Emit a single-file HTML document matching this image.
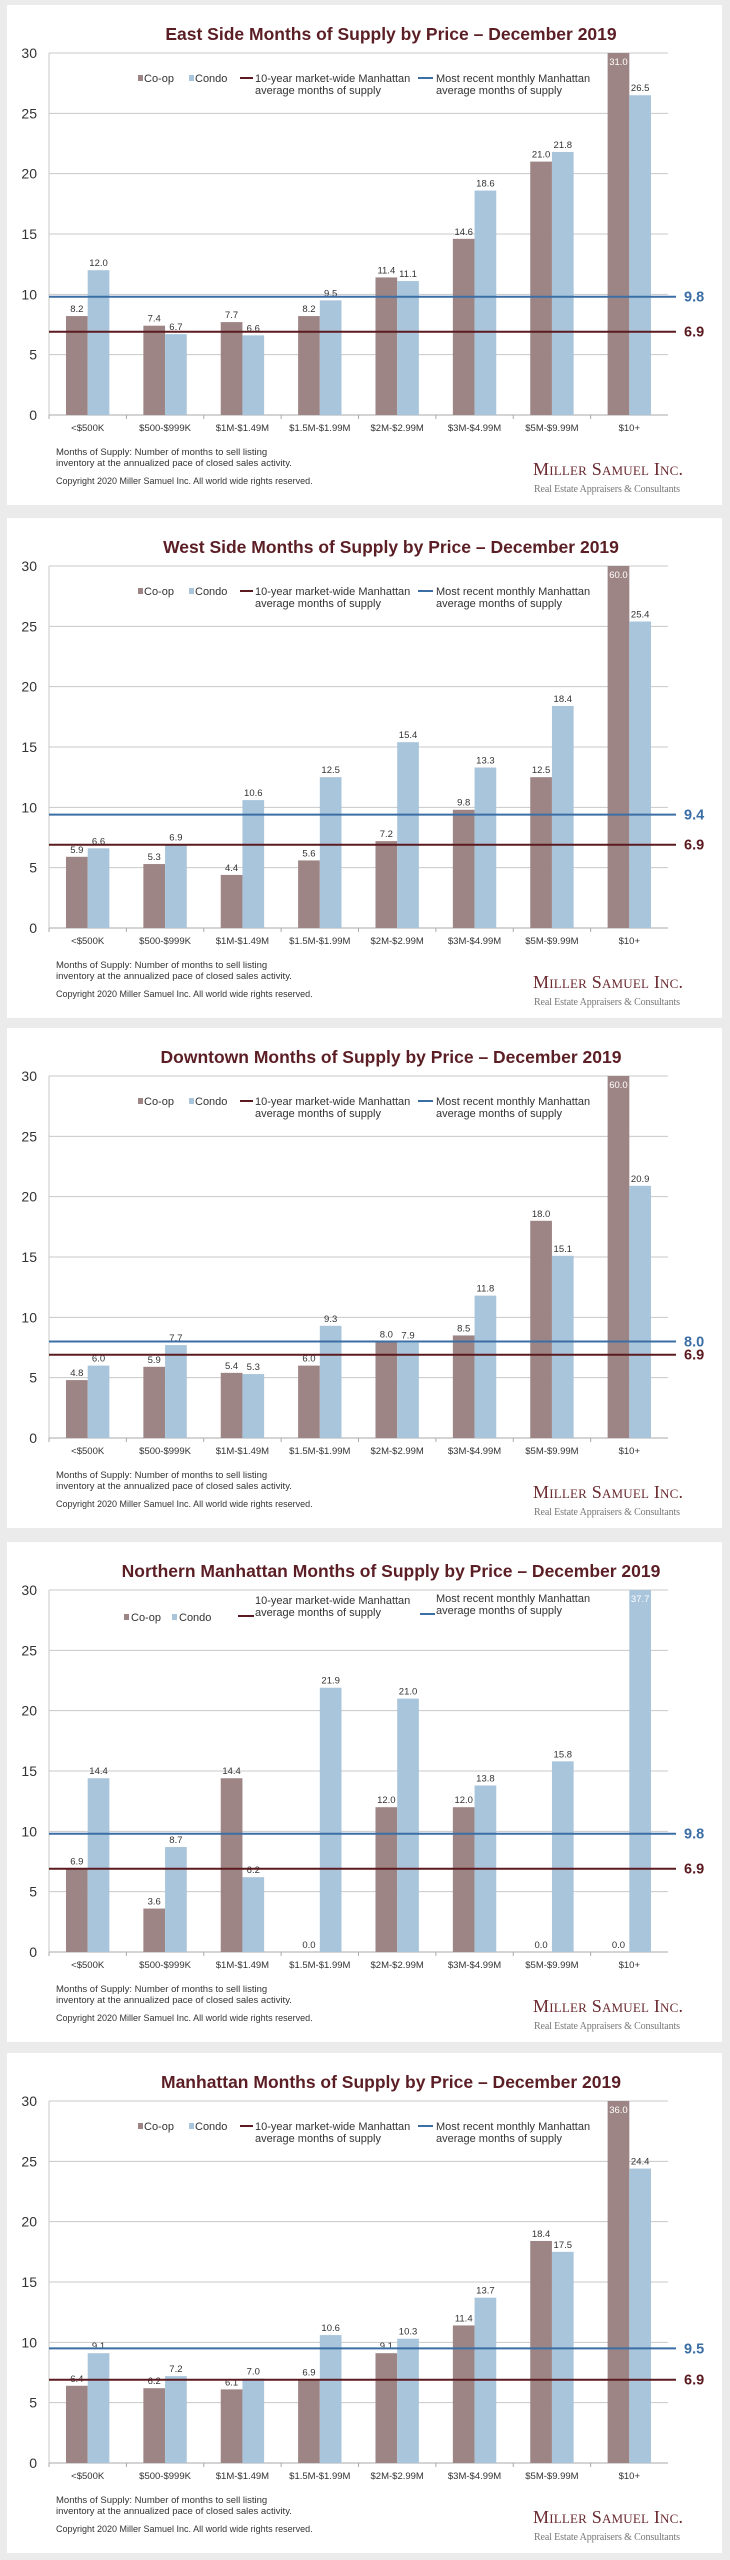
<!DOCTYPE html>
<html><head><meta charset="utf-8">
<style>
html,body{margin:0;padding:0;background:#ebebeb;}
body{width:730px;height:2560px;position:relative;overflow:hidden;font-family:"Liberation Sans",Arial,sans-serif;}
.panel{position:absolute;left:7px;width:715px;height:500px;background:#fff;}
svg{position:absolute;left:0;top:0;}
</style></head>
<body>
<div id="root"></div>
<script>
// ---- data ----
const categories = ["<$500K","$500-$999K","$1M-$1.49M","$1.5M-$1.99M","$2M-$2.99M","$3M-$4.99M","$5M-$9.99M","$10+"];
const yTicks = [0,5,10,15,20,25,30];

const eastTitle = "East Side Months of Supply by Price – December 2019";
const eastCoop  = [8.2,7.4,7.7,8.2,11.4,14.6,21.0,31.0];
const eastCondo = [12.0,6.7,6.6,9.5,11.1,18.6,21.8,26.5];
const eastRecent = 9.8;
const eastTenYear = 6.9;

const westTitle = "West Side Months of Supply by Price – December 2019";
const westCoop  = [5.9,5.3,4.4,5.6,7.2,9.8,12.5,60.0];
const westCondo = [6.6,6.9,10.6,12.5,15.4,13.3,18.4,25.4];
const westRecent = 9.4;
const westTenYear = 6.9;

const downTitle = "Downtown Months of Supply by Price – December 2019";
const downCoop  = [4.8,5.9,5.4,6.0,8.0,8.5,18.0,60.0];
const downCondo = [6.0,7.7,5.3,9.3,7.9,11.8,15.1,20.9];
const downRecent = 8.0;
const downTenYear = 6.9;

const northTitle = "Northern Manhattan Months of Supply by Price – December 2019";
const northCoop  = [6.9,3.6,14.4,0.0,12.0,12.0,0.0,0.0];
const northCondo = [14.4,8.7,6.2,21.9,21.0,13.8,15.8,37.7];
const northRecent = 9.8;
const northTenYear = 6.9;

const manTitle = "Manhattan Months of Supply by Price – December 2019";
const manCoop  = [6.4,6.2,6.1,6.9,9.1,11.4,18.4,36.0];
const manCondo = [9.1,7.2,7.0,10.6,10.3,13.7,17.5,24.4];
const manRecent = 9.5;
const manTenYear = 6.9;

// ---- drawing ----
const NS = "http://www.w3.org/2000/svg";
const COOP = "#9e8585", CONDO = "#a9c5dc", RED = "#5a1a1f", BLUE = "#3b6ea5", TITLE = "#5b1e25";
function mk(tag, attrs, parent, txt){
  const e = document.createElementNS(NS, tag);
  for (const k in attrs) e.setAttribute(k, attrs[k]);
  if (txt !== undefined) e.textContent = txt;
  if (parent) parent.appendChild(e);
  return e;
}
function drawChart(top, key, title, coop, condo, recent, tenYear, northLegend){
  const root = document.getElementById('root');
  const panel = document.createElement('div');
  panel.className = 'panel';
  panel.style.top = top + 'px';
  
  
  root.appendChild(panel);
  const svg = mk('svg', {width:715, height:500, viewBox:"7 0 715 500"}, panel);
  
  
  const L = 49, R = 668, T = 48, B = 410;
  const y = v => B - Math.min(v,30)/30*(B-T);
  const cw = (R-L)/categories.length;
  const bw = 21.7;

  const t = mk('text', {x:391, y:35, 'text-anchor':'middle', 'font-size':17.5, 'font-weight':'bold', fill:TITLE}, svg, title);
  
  

  yTicks.forEach(v=>{
    if (v>0) mk('line', {x1:L, x2:R, y1:y(v), y2:y(v), stroke:'#c8c8c8', 'stroke-width':1}, svg);
    const tl = mk('text', {x:37, y:y(v)+5, 'text-anchor':'end', 'font-size':14, fill:'#333'}, svg, v);
    
    
  });
  mk('line', {x1:L, x2:L, y1:T, y2:B, stroke:'#c8c8c8'}, svg);
  mk('line', {x1:L, x2:R, y1:B, y2:B, stroke:'#aaa'}, svg);
  categories.forEach((c,i)=>{
    mk('line', {x1:L+cw*i, x2:L+cw*i, y1:B, y2:B+4, stroke:'#aaa'}, svg);
    const cl = mk('text', {x:L+cw*(i+0.5), y:B+16, 'text-anchor':'middle', 'font-size':9.5, fill:'#333'}, svg, c);
    
    
  });

  const series = [[coop, COOP, 'coop', -bw], [condo, CONDO, 'condo', 0]];
  series.forEach(([vals, col, nm, off])=>{
    vals.forEach((v,i)=>{
      const cx = L+cw*(i+0.5);
      const r = mk('rect', {x:cx+off, y:y(v), width:bw, height:B-y(v), fill:col}, svg);
      
      
      const clipped = v > 30;
      const lab = mk('text', {x:cx+off+bw/2, y: clipped ? y(v)+12 : y(v)-4, 'text-anchor':'middle', 'font-size':9.5, fill: clipped ? '#fff' : '#333'}, svg, v.toFixed(1));
      
      
    });
  });

  const ln1 = mk('line', {x1:L, x2:676, y1:y(recent), y2:y(recent), stroke:BLUE, 'stroke-width':2}, svg);
  
  
  const ln2 = mk('line', {x1:L, x2:676, y1:y(tenYear), y2:y(tenYear), stroke:RED, 'stroke-width':2}, svg);
  
  
  const rl = mk('text', {x:684, y:y(recent)+5, 'font-size':14.5, 'font-weight':'bold', fill:BLUE}, svg, recent.toFixed(1));
  
  
  const tyl = mk('text', {x:684, y:y(tenYear)+5, 'font-size':14.5, 'font-weight':'bold', fill:RED}, svg, tenYear.toFixed(1));
  
  

  // legend
  const lg = mk('g', {'font-size':11, fill:'#333'}, svg);
  
  
  if (!northLegend){
    const ly = 77;
    mk('rect', {x:138, y:ly-7, width:5, height:6, fill:COOP}, lg);
    mk('text', {x:144, y:ly}, lg, 'Co-op');
    mk('rect', {x:189, y:ly-7, width:5, height:6, fill:CONDO}, lg);
    mk('text', {x:195, y:ly}, lg, 'Condo');
    mk('line', {x1:240, x2:253, y1:ly-4, y2:ly-4, stroke:RED, 'stroke-width':2}, lg);
    mk('text', {x:255, y:ly}, lg, '10-year market-wide Manhattan');
    mk('text', {x:255, y:ly+12}, lg, 'average months of supply');
    mk('line', {x1:418, x2:433, y1:ly-4, y2:ly-4, stroke:BLUE, 'stroke-width':2}, lg);
    mk('text', {x:436, y:ly}, lg, 'Most recent monthly Manhattan');
    mk('text', {x:436, y:ly+12}, lg, 'average months of supply');
  } else {
    mk('rect', {x:124, y:72, width:5, height:6, fill:COOP}, lg);
    mk('text', {x:131, y:79}, lg, 'Co-op');
    mk('rect', {x:172, y:72, width:5, height:6, fill:CONDO}, lg);
    mk('text', {x:179, y:79}, lg, 'Condo');
    mk('text', {x:255, y:62}, lg, '10-year market-wide Manhattan');
    mk('line', {x1:238, x2:254, y1:74, y2:74, stroke:RED, 'stroke-width':2}, lg);
    mk('text', {x:255, y:74}, lg, 'average months of supply');
    mk('text', {x:436, y:60}, lg, 'Most recent monthly Manhattan');
    mk('line', {x1:420, x2:435, y1:72, y2:72, stroke:BLUE, 'stroke-width':2}, lg);
    mk('text', {x:436, y:72}, lg, 'average months of supply');
  }

  // notes
  const nt = mk('g', {'font-size':9.5, fill:'#333'}, svg);
  
  
  mk('text', {x:56, y:450}, nt, 'Months of Supply: Number of months to sell listing');
  mk('text', {x:56, y:461}, nt, 'inventory at the annualized pace of closed sales activity.');
  mk('text', {x:56, y:479, 'font-size':9}, nt, 'Copyright 2020 Miller Samuel Inc.  All world wide rights reserved.');
  const lo = mk('g', {}, svg);
  
  
  mk('text', {x:533, y:470, 'font-family':'"Liberation Serif",serif', 'font-size':18, 'font-variant':'small-caps', fill:'#6b2a30', textLength:150, lengthAdjust:'spacing'}, lo, 'Miller Samuel Inc.');
  mk('text', {x:534, y:487, 'font-family':'"Liberation Serif",serif', 'font-size':10, fill:'#777', textLength:146, lengthAdjust:'spacing'}, lo, 'Real Estate Appraisers & Consultants');
}
drawChart(5, 'east-side', eastTitle, eastCoop, eastCondo, eastRecent, eastTenYear, false);
drawChart(518, 'west-side', westTitle, westCoop, westCondo, westRecent, westTenYear, false);
drawChart(1028, 'downtown', downTitle, downCoop, downCondo, downRecent, downTenYear, false);
drawChart(1542, 'northern-manhattan', northTitle, northCoop, northCondo, northRecent, northTenYear, true);
drawChart(2053, 'manhattan', manTitle, manCoop, manCondo, manRecent, manTenYear, false);
</script>
</body></html>
